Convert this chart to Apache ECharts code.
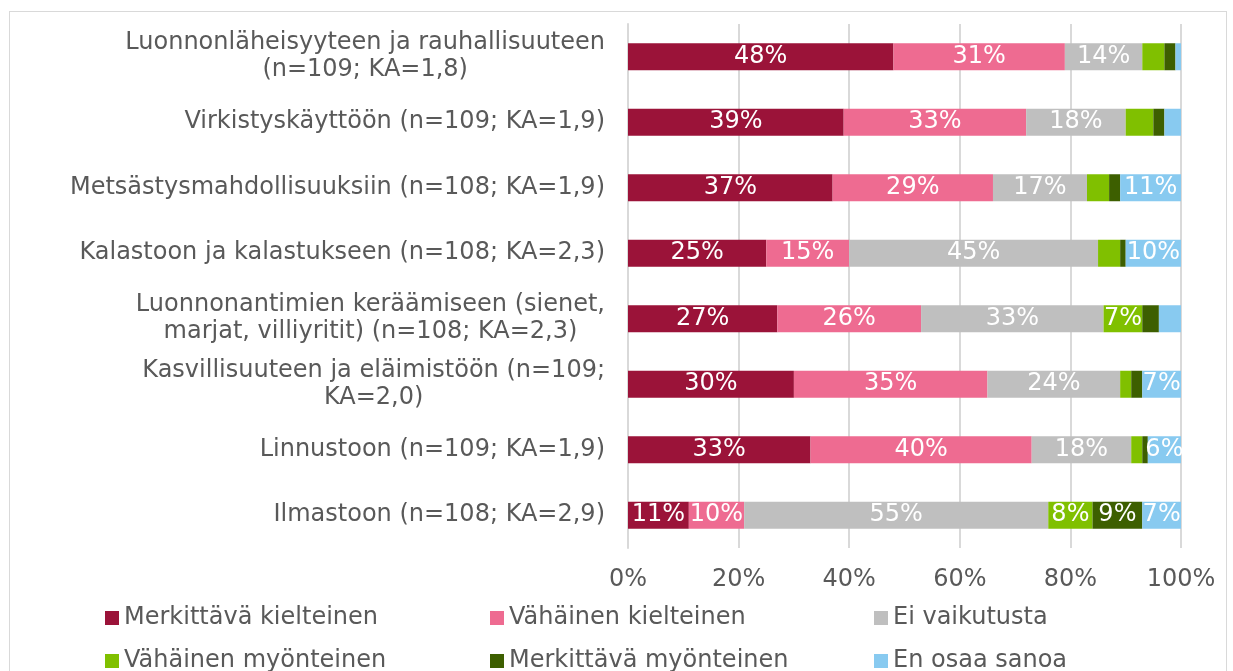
<!DOCTYPE html>
<html>
<head>
<meta charset="utf-8">
<script src="https://cdn.jsdelivr.net/npm/echarts@6/dist/echarts.min.js"></script>
<style>
  html, body { margin: 0; padding: 0; background: #fff; }
  #frame { position: absolute; left: 9px; top: 11px; width: 1218px; height: 700px; border: 1px solid #d9d9d9; box-sizing: border-box; }
  #chart { position: absolute; left: 0; top: 0; width: 1233px; height: 671px; }
</style>
</head>
<body>
<div id="frame"></div>
<div id="chart"></div>
<script>
const categories = [
  'Luonnonläheisyyteen ja rauhallisuuteen\n(n=109; KA=1,8)',
  'Virkistyskäyttöön (n=109; KA=1,9)',
  'Metsästysmahdollisuuksiin (n=108; KA=1,9)',
  'Kalastoon ja kalastukseen (n=108; KA=2,3)',
  'Luonnonantimien keräämiseen (sienet,\nmarjat, villiyritit) (n=108; KA=2,3)',
  'Kasvillisuuteen ja eläimistöön (n=109;\nKA=2,0)',
  'Linnustoon (n=109; KA=1,9)',
  'Ilmastoon (n=108; KA=2,9)'
];

const seriesNames = [
  'Merkittävä kielteinen',
  'Vähäinen kielteinen',
  'Ei vaikutusta',
  'Vähäinen myönteinen',
  'Merkittävä myönteinen',
  'En osaa sanoa'
];

const merkittavaKielteinen = [48, 39, 37, 25, 27, 30, 33, 11];
const vahainenKielteinen   = [31, 33, 29, 15, 26, 35, 40, 10];
const eiVaikutusta         = [14, 18, 17, 45, 33, 24, 18, 55];
const vahainenMyonteinen   = [4, 5, 4, 4, 7, 2, 2, 8];
const merkittavaMyonteinen = [2, 2, 2, 1, 3, 2, 1, 9];
const enOsaaSanoa          = [1, 3, 11, 10, 4, 7, 6, 7];

const xTicks = [0, 20, 40, 60, 80, 100];

const seriesData = [
  merkittavaKielteinen, vahainenKielteinen, eiVaikutusta,
  vahainenMyonteinen, merkittavaMyonteinen, enOsaaSanoa
];
const colors = ['#9b1339', '#ee6b91', '#bfbfbf', '#80c000', '#3d5f00', '#88caf0'];

const FONT = 'Verdana, "DejaVu Sans", sans-serif';
const TEXT = '#595959';
const FS = 24;

const chart = echarts.init(document.getElementById('chart'));

const series = seriesNames.map((name, i) => ({
  name,
  type: 'bar',
  stack: 'total',
  barWidth: 27,
  data: seriesData[i],
  itemStyle: { color: colors[i] },
  label: {
    show: true,
    position: 'inside',
    color: '#fff',
    fontSize: FS,
    fontFamily: FONT,
    formatter: p => (p.value >= 6 ? p.value + '%' : '')
  },
  emphasis: { disabled: true },
  animation: false
}));

// three legend columns, two rows each
const legendBase = {
  orient: 'vertical',
  padding: 0,
  height: 70,
  itemWidth: 14,
  itemHeight: 14,
  itemGap: 19,
  icon: 'rect',
  top: 606,
  textStyle: { fontSize: FS, color: TEXT, fontFamily: FONT }
};

chart.setOption({
  backgroundColor: 'transparent',
  textStyle: { fontFamily: FONT },
  grid: { left: 628, right: 52, top: 24, bottom: 123, containLabel: false },
  legend: [
    Object.assign({}, legendBase, { left: 105, data: [seriesNames[0], seriesNames[3]] }),
    Object.assign({}, legendBase, { left: 490, data: [seriesNames[1], seriesNames[4]] }),
    Object.assign({}, legendBase, { left: 874, data: [seriesNames[2], seriesNames[5]] })
  ],
  xAxis: {
    type: 'value',
    min: xTicks[0],
    max: xTicks[xTicks.length - 1],
    interval: 20,
    axisLine: { show: false },
    axisTick: { show: false },
    axisLabel: { color: TEXT, fontSize: FS, fontFamily: FONT, margin: 20, formatter: '{value}%' },
    splitLine: { show: true, lineStyle: { color: '#d9d9d9', width: 2 } }
  },
  yAxis: {
    type: 'category',
    inverse: true,
    data: categories,
    axisLine: { show: true, lineStyle: { color: '#d9d9d9', width: 2 } },
    axisTick: { show: false },
    axisLabel: {
      margin: 23,
      color: TEXT,
      fontSize: FS,
      fontFamily: FONT,
      lineHeight: 27,
      formatter: v => v.split('\n').map(l => '{c|' + l + '}').join('\n'),
      rich: { c: { align: 'center', fontSize: FS, lineHeight: 27, color: TEXT, fontFamily: FONT } }
    }
  },
  series
});
</script>
</body>
</html>
